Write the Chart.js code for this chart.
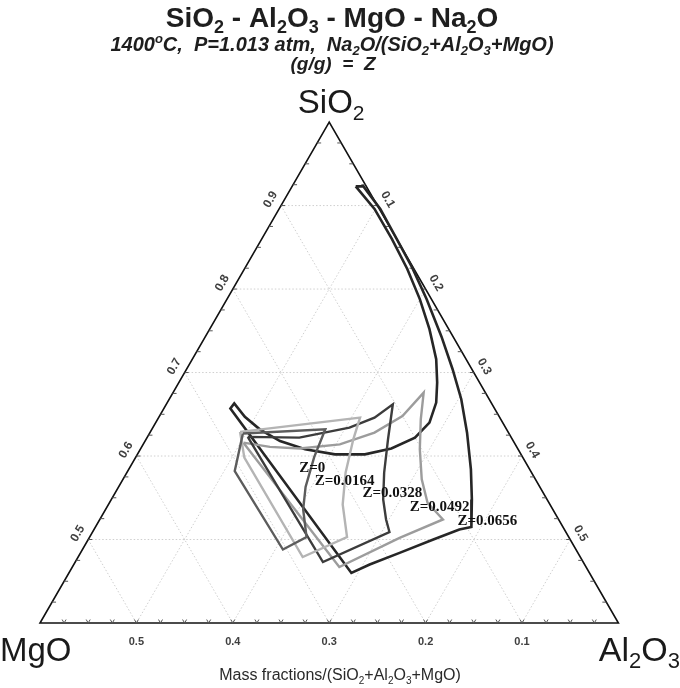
<!DOCTYPE html>
<html>
<head>
<meta charset="utf-8">
<script src="https://cdn.jsdelivr.net/npm/chart.js@4.4.1/dist/chart.umd.min.js"></script>
<style>
  html, body { margin: 0; padding: 0; background: #fff; }
  #wrap { width: 680px; height: 688px; }
</style>
</head>
<body>
<div id="wrap"><canvas id="chart" width="680" height="688"></canvas></div>
<script>
// mass fractions; MgO = 1 - SiO2 - Al2O3
const zLabels = ['Z=0', 'Z=0.0164', 'Z=0.0328', 'Z=0.0492', 'Z=0.0656'];

const z0Si = [0.627, 0.632, 0.599, 0.563, 0.536, 0.503, 0.488, 0.582, 0.627];
const z0Al = [0.097, 0.180, 0.185, 0.194, 0.205, 0.225, 0.208, 0.111, 0.097];

const z1Si = [0.629, 0.646, 0.620, 0.580, 0.542, 0.503, 0.479, 0.598, 0.629];
const z1Al = [0.093, 0.209, 0.215, 0.227, 0.243, 0.267, 0.233, 0.113, 0.093];

const z2Si = [0.623, 0.622, 0.634, 0.646, 0.662, 0.620, 0.580, 0.548, 0.524, 0.509, 0.473, 0.623];
const z2Al = [0.104, 0.158, 0.204, 0.224, 0.235, 0.251, 0.267, 0.282, 0.297, 0.308, 0.257, 0.104];

const z3Si = [0.616, 0.611, 0.609, 0.614, 0.628, 0.648, 0.676, 0.644, 0.608, 0.572, 0.544, 0.524, 0.502, 0.467, 0.616];
const z3Al = [0.103, 0.133, 0.165, 0.204, 0.233, 0.252, 0.260, 0.273, 0.290, 0.310, 0.330, 0.356, 0.322, 0.277, 0.103];

const z4Si = [0.923, 0.923, 0.896, 0.860, 0.826, 0.788, 0.743, 0.704, 0.668, 0.628, 0.584, 0.548, 0.515,
  0.512, 0.500, 0.484, 0.470, 0.460, 0.657, 0.663, 0.647, 0.632, 0.618, 0.608, 0.602, 0.602, 0.609,
  0.622, 0.640, 0.664, 0.688, 0.716, 0.752, 0.788, 0.824, 0.860, 0.896, 0.923];
const z4Al = [0.066, 0.074, 0.105, 0.140, 0.173, 0.207, 0.245, 0.276, 0.303, 0.329, 0.355, 0.374, 0.390,
  0.379, 0.358, 0.331, 0.307, 0.293, 0.069, 0.070, 0.089, 0.112, 0.140, 0.171, 0.205, 0.236, 0.260,
  0.278, 0.284, 0.279, 0.268, 0.253, 0.228, 0.200, 0.169, 0.135, 0.099, 0.066];

// where the Z= labels sit (left end of text)
const labelSi = [0.586, 0.570, 0.555, 0.539, 0.522];
const labelAl = [0.176, 0.200, 0.257, 0.314, 0.372];

const siTicks = [0.5, 0.6, 0.7, 0.8, 0.9];
const alTicks = [0.1, 0.2, 0.3, 0.4, 0.5];
const mgTicks = [0.5, 0.4, 0.3, 0.2, 0.1];
const siMin = 0.4;   // the plotted triangle is SiO2 >= 0.4

const colors = ['#5c5c5c', '#b4b4b4', '#3c3c3c', '#9c9c9c', '#262626'];

const R3 = Math.sqrt(3) / 2;
function toXY(si, al) {
  return { x: al + si / 2, y: si * R3 };
}
function series(si, al) {
  return si.map((s, i) => toXY(s, al[i]));
}

// pixel frame: MgO corner at (40,623), 964 px per unit
const K = 964;
const xMin = siMin / 2 - 40 / K;
const yMin = siMin * R3 - (688 - 623) / K;

const allSi = [z0Si, z1Si, z2Si, z3Si, z4Si];
const allAl = [z0Al, z1Al, z2Al, z3Al, z4Al];

const FAM = '"Liberation Sans", Arial, sans-serif';

function drawRich(ctx, parts, x, y, size, style, align) {
  const fonts = parts.map(p => style + ' ' + (p[1] ? Math.round(size * 0.64) : size) + 'px ' + FAM);
  const widths = parts.map((p, i) => { ctx.font = fonts[i]; return ctx.measureText(p[0]).width; });
  const total = widths.reduce((a, b) => a + b, 0);
  let cx = align === 'center' ? x - total / 2 : align === 'right' ? x - total : x;
  ctx.textAlign = 'left';
  ctx.textBaseline = 'alphabetic';
  parts.forEach((p, i) => {
    ctx.font = fonts[i];
    const dy = p[1] === 1 ? size * 0.22 : p[1] === 2 ? -size * 0.42 : 0;
    ctx.fillText(p[0], cx, y + dy);
    cx += widths[i];
  });
}

const ternary = {
  id: 'ternary',
  beforeDatasetsDraw(chart) {
    const ctx = chart.ctx;
    const sx = chart.scales.x, sy = chart.scales.y;
    const P = (si, al) => {
      const p = toXY(si, al);
      return [sx.getPixelForValue(p.x), sy.getPixelForValue(p.y)];
    };
    const seg = (a, b) => { ctx.beginPath(); ctx.moveTo(a[0], a[1]); ctx.lineTo(b[0], b[1]); ctx.stroke(); };

    ctx.save();
    // grid
    ctx.strokeStyle = '#cfcfcf';
    ctx.lineWidth = 1;
    ctx.setLineDash([1.5, 2]);
    siTicks.forEach(v => seg(P(v, 0), P(v, 1 - v)));
    alTicks.forEach(v => seg(P(1 - v, v), P(siMin, v)));
    mgTicks.forEach(v => seg(P(1 - v, 0), P(siMin, 1 - siMin - v)));
    ctx.setLineDash([]);

    // frame
    const A = P(1, 0), L = P(siMin, 0), Rr = P(siMin, 1 - siMin);
    ctx.strokeStyle = '#111';
    ctx.lineWidth = 1.6;
    ctx.beginPath();
    ctx.moveTo(A[0], A[1]); ctx.lineTo(L[0], L[1]); ctx.lineTo(Rr[0], Rr[1]); ctx.closePath();
    ctx.stroke();

    // minor ticks every 0.025
    ctx.strokeStyle = '#555';
    ctx.lineWidth = 1;
    const t = 4;
    const c60 = 0.5 * t, s60 = R3 * t;
    for (let k = 1; k < 24; k++) {
      const v = k * 0.025;
      // bottom edge (MgO axis)
      let p = P(siMin, v);
      seg(p, [p[0] - c60, p[1] - s60]); seg(p, [p[0] + c60, p[1] - s60]);
      if (v < 0.6) {
        // left edge (SiO2 axis)
        p = P(siMin + v, 0);
        seg(p, [p[0] + t, p[1]]);
        // right edge (Al2O3 axis)
        p = P(siMin + v, 0.6 - v);
        seg(p, [p[0] - t, p[1]]);
      }
    }

    // tick labels
    ctx.fillStyle = '#404040';
    ctx.font = 'bold 12px ' + FAM;
    ctx.textAlign = 'center';
    ctx.textBaseline = 'middle';
    siTicks.forEach(v => {
      const p = P(v, 0);
      ctx.save();
      ctx.translate(p[0] - 12 * R3, p[1] - 6);
      ctx.rotate(-Math.PI / 3);
      ctx.fillText(v.toFixed(1), 0, 0);
      ctx.restore();
    });
    alTicks.forEach(v => {
      const p = P(1 - v, v);
      ctx.save();
      ctx.translate(p[0] + 12 * R3, p[1] - 6);
      ctx.rotate(Math.PI / 3);
      ctx.fillText(v.toFixed(1), 0, 0);
      ctx.restore();
    });
    ctx.font = 'bold 11px ' + FAM;
    mgTicks.forEach(v => {
      const p = P(siMin, 1 - siMin - v);
      ctx.fillText(v.toFixed(1), p[0], p[1] + 19);
    });

    // corner and axis captions
    ctx.fillStyle = '#1a1a1a';
    drawRich(ctx, [['SiO'], ['2', 1]], A[0] + 2, A[1] - 9, 33, 'normal', 'center');
    drawRich(ctx, [['MgO']], 0, 661, 33, 'normal', 'left');
    drawRich(ctx, [['Al'], ['2', 1], ['O'], ['3', 1]], 680, 661, 34, 'normal', 'right');
    ctx.fillStyle = '#2a2a2a';
    drawRich(ctx, [['Mass fractions/(SiO'], ['2', 1], ['+Al'], ['2', 1], ['O'], ['3', 1], ['+MgO)']],
      340, 680, 16, 'normal', 'center');

    // titles
    ctx.fillStyle = '#1e1e1e';
    drawRich(ctx, [['SiO'], ['2', 1], [' - Al'], ['2', 1], ['O'], ['3', 1], [' - MgO - Na'], ['2', 1], ['O']],
      332, 27, 28, 'bold', 'center');
    drawRich(ctx, [['1400'], ['o', 2], ['C,  P=1.013 atm,  Na'], ['2', 1], ['O/(SiO'], ['2', 1], ['+Al'], ['2', 1],
      ['O'], ['3', 1], ['+MgO)']], 332, 51, 20, 'italic bold', 'center');
    drawRich(ctx, [['(g/g)  =  Z']], 333, 70, 19, 'italic bold', 'center');
    ctx.restore();
  },
  afterDatasetsDraw(chart) {
    const ctx = chart.ctx;
    const sx = chart.scales.x, sy = chart.scales.y;
    ctx.save();
    ctx.fillStyle = '#111';
    ctx.font = 'bold 15px "Liberation Serif", "Times New Roman", serif';
    ctx.textAlign = 'left';
    ctx.textBaseline = 'middle';
    zLabels.forEach((txt, i) => {
      const p = toXY(labelSi[i], labelAl[i]);
      ctx.fillText(txt, sx.getPixelForValue(p.x), sy.getPixelForValue(p.y));
    });
    ctx.restore();
  }
};

new Chart(document.getElementById('chart'), {
  type: 'scatter',
  data: {
    datasets: zLabels.map((lab, i) => ({
      label: lab,
      data: series(allSi[i], allAl[i]),
      showLine: true,
      borderColor: colors[i],
      borderWidth: i === 4 ? 2.6 : 2.4,
      pointRadius: 0,
      tension: 0,
      fill: false
    }))
  },
  options: {
    responsive: false,
    animation: false,
    devicePixelRatio: 1,
    layout: { padding: 0 },
    plugins: { legend: { display: false }, tooltip: { enabled: false }, title: { display: false } },
    scales: {
      x: { type: 'linear', min: xMin, max: xMin + 680 / K, display: false },
      y: { type: 'linear', min: yMin, max: yMin + 688 / K, display: false }
    }
  },
  plugins: [ternary]
});
</script>
</body>
</html>
